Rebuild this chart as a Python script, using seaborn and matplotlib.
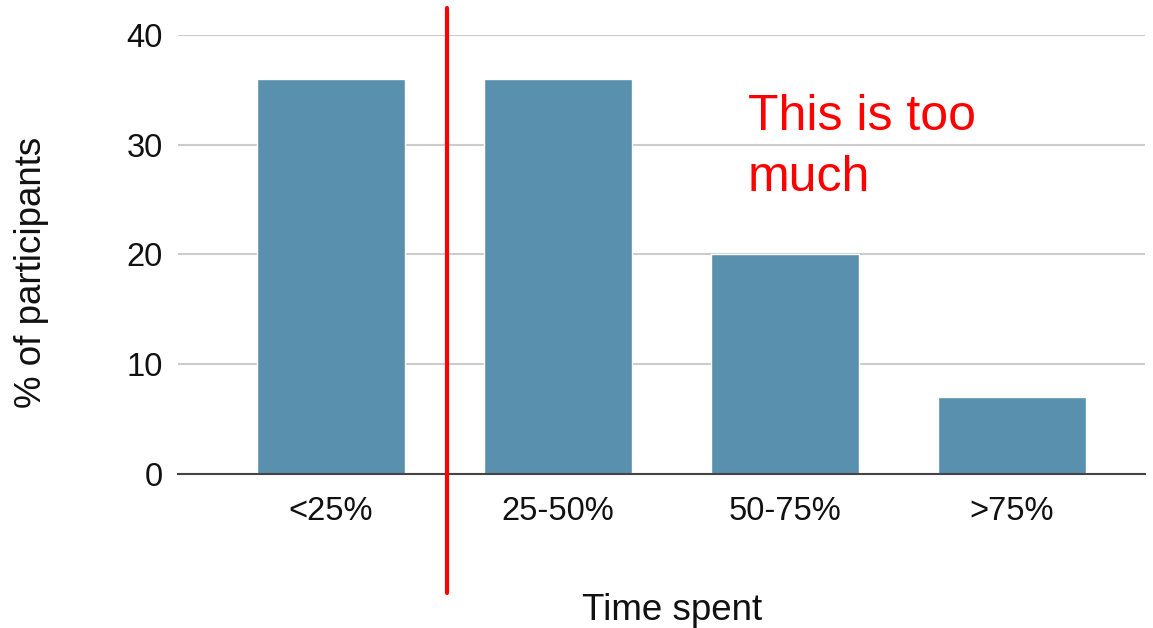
import matplotlib
matplotlib.use("Agg")
import matplotlib.pyplot as plt
import seaborn as sns
import pandas as pd

categories = ["<25%", "25-50%", "50-75%", ">75%"]
percent = [36, 36, 20, 7]
y_ticks = [0, 10, 20, 30, 40]

sns.set_theme(style="white")
plt.rcParams["font.family"] = ["Liberation Sans", "DejaVu Sans"]

df = pd.DataFrame({"Time spent": categories, "% of participants": percent})

fig = plt.figure(figsize=(11.53, 6.28), dpi=100)
ax = fig.add_axes([0.1544, 0.2452, 0.8387, 0.6991])

sns.barplot(data=df, x="Time spent", y="% of participants", color="#5990ae",
            saturation=1, width=0.65, ax=ax, zorder=3)

ax.set_xlim(-0.674, 3.586)
ax.set_ylim(0, 40)
ax.set_yticks(y_ticks)
ax.yaxis.grid(True, color="#cccccc", linewidth=1.5, zorder=0)
ax.set_axisbelow(True)
for s in ["top", "right", "left"]:
    ax.spines[s].set_visible(False)
ax.spines["bottom"].set_color("#444444")
ax.spines["bottom"].set_linewidth(1.5)
ax.spines["bottom"].set_zorder(4)
ax.tick_params(axis="y", length=0, pad=11, labelsize=23.5, labelcolor="#111111")
ax.tick_params(axis="x", length=0, pad=16, labelsize=23.5, labelcolor="#111111")

ax.set_xlabel("Time spent", fontsize=26.5, color="#111111", va="baseline")
ax.set_ylabel("% of participants", fontsize=26.5, color="#111111", va="center")
ax.xaxis.set_label_coords(0.511, -0.3326)
ax.yaxis.set_label_coords(-0.152, 0.46)

# divider between the first category and the rest
ax.plot([0.511, 0.511], [-10.8, 42.45], color="#ff0000", linewidth=3,
        clip_on=False, zorder=5)
ax.text(1.837, 34.6, "This is too\nmuch", color="#ff0000", fontsize=36,
        ha="left", va="top", linespacing=1.42, zorder=6)

fig.savefig("out.png", dpi=100)
